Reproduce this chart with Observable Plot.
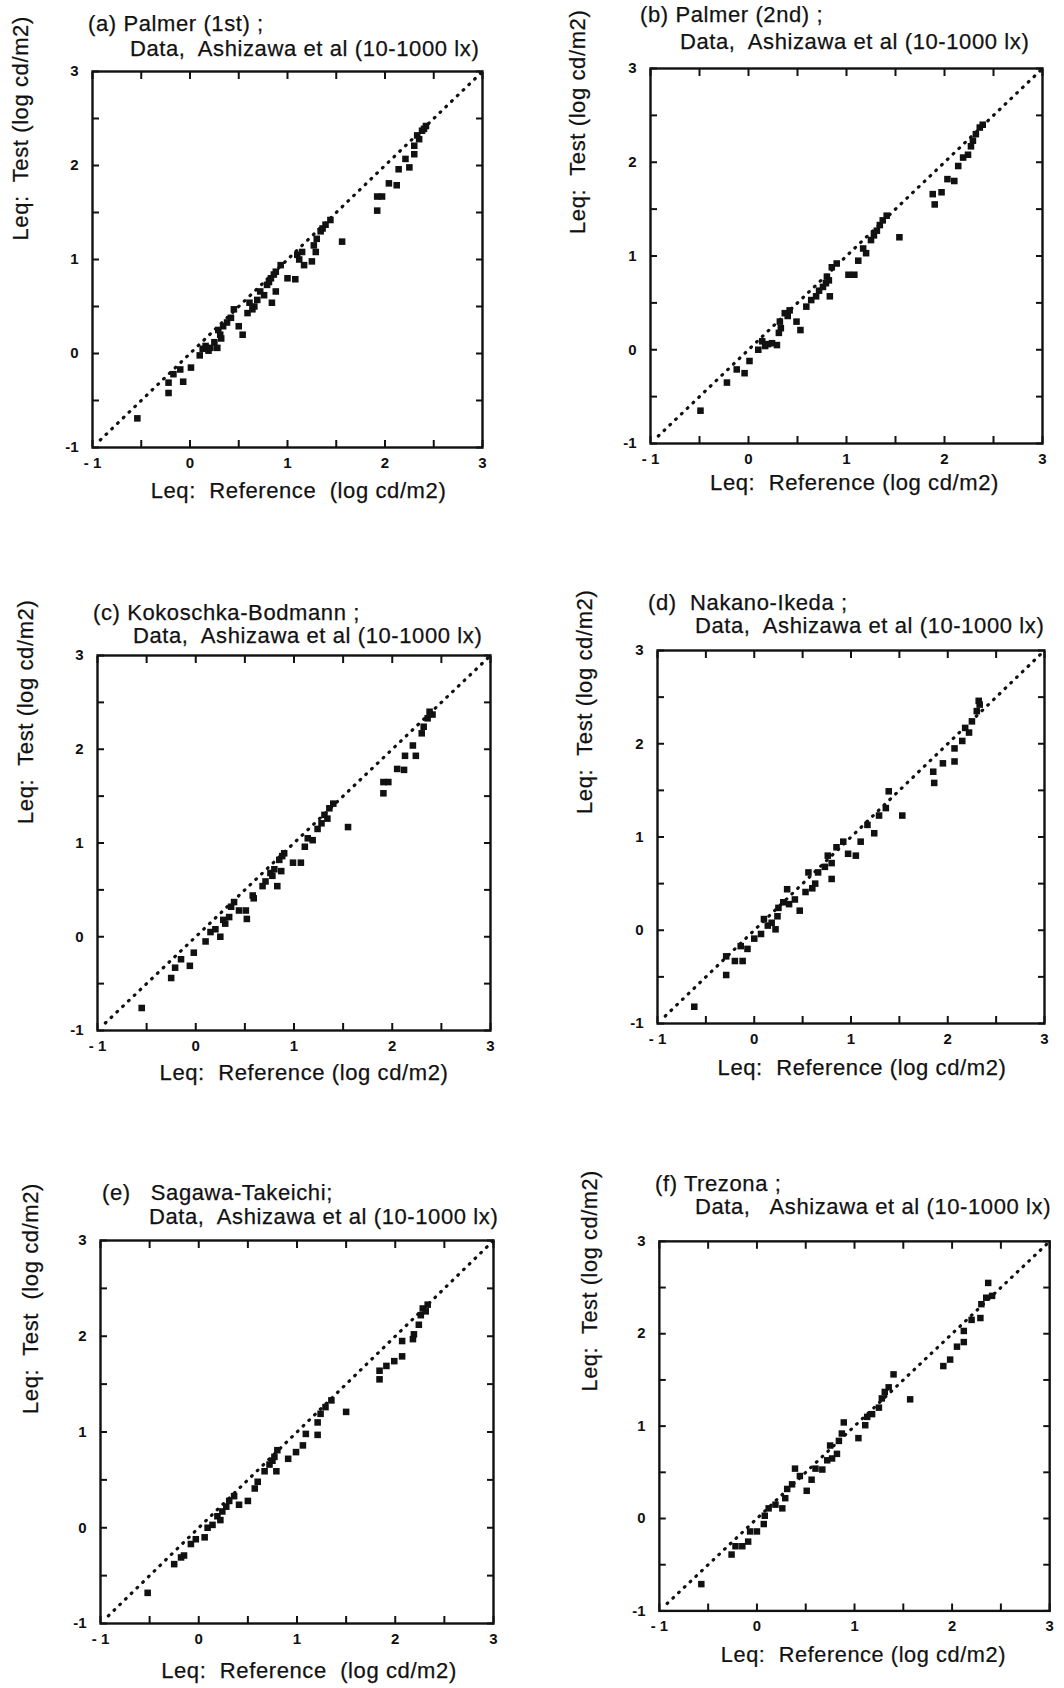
<!DOCTYPE html>
<html><head><meta charset="utf-8">
<script src="https://cdn.jsdelivr.net/npm/d3@7"></script>
<script src="https://cdn.jsdelivr.net/npm/@observablehq/plot@0.6"></script>
<style>
body{margin:0;background:#fff;}
#page{position:relative;width:1064px;height:1688px;background:#fff;font-family:"Liberation Sans",Arial,Helvetica,sans-serif;color:#111;overflow:hidden}
.t{position:absolute;font-size:22px;line-height:22px;letter-spacing:.6px;white-space:pre;-webkit-text-stroke:0.25px #111}
.p{position:absolute}
.p svg text{white-space:pre}
.p svg g[font-size="22"] text{letter-spacing:.6px;stroke:#111;stroke-width:0.25px}
.p svg g[fill="#101010"] text{font-size:15px !important;font-weight:700 !important}
</style></head><body><div id="page"></div>
<script>
// ---- data: [reference, test] in log cd/m2 ----
const palmer1st = [
[-0.54,-0.69],[-0.22,-0.42],[-0.22,-0.31],[-0.17,-0.22],[-0.10,-0.17],[-0.07,-0.30],[0.01,-0.15],[0.10,-0.02],[0.13,0.05],[0.16,0.08],[0.19,0.03],[0.21,0.06],[0.25,0.12],[0.28,0.06],[0.31,0.20],[0.29,0.25],[0.34,0.29],[0.32,0.16],[0.38,0.33],[0.42,0.38],[0.45,0.47],[0.50,0.29],[0.54,0.20],[0.59,0.43],[0.61,0.54],[0.64,0.47],[0.66,0.50],[0.69,0.57],[0.72,0.66],[0.76,0.62],[0.79,0.73],[0.81,0.76],[0.84,0.54],[0.88,0.66],[0.83,0.80],[0.86,0.84],[0.88,0.87],[0.93,0.94],[1.00,0.80],[1.08,0.79],[1.10,1.05],[1.12,1.00],[1.15,1.08],[1.17,0.94],[1.25,0.98],[1.27,1.15],[1.29,1.08],[1.30,1.22],[1.34,1.30],[1.36,1.33],[1.39,1.37],[1.44,1.42],[1.56,1.19],[1.92,1.52],[1.92,1.67],[1.97,1.67],[2.04,1.81],[2.12,1.79],[2.14,1.96],[2.25,1.98],[2.21,2.07],[2.30,2.12],[2.30,2.21],[2.35,2.28],[2.38,2.37],[2.42,2.42],[2.33,2.32],[2.40,2.39]
];
const palmer2nd = [
[-0.49,-0.65],[-0.22,-0.35],[-0.12,-0.21],[-0.04,-0.25],[0.01,-0.12],[0.10,0.0],[0.14,0.09],[0.17,0.04],[0.20,0.06],[0.24,0.07],[0.29,0.05],[0.31,0.18],[0.33,0.23],[0.32,0.30],[0.37,0.39],[0.40,0.36],[0.42,0.42],[0.49,0.30],[0.53,0.21],[0.59,0.46],[0.64,0.53],[0.69,0.57],[0.72,0.63],[0.76,0.67],[0.79,0.71],[0.83,0.57],[0.80,0.78],[0.82,0.74],[0.85,0.88],[0.90,0.92],[1.02,0.80],[1.08,0.80],[1.12,0.95],[1.17,1.08],[1.20,1.03],[1.25,1.17],[1.28,1.22],[1.31,1.27],[1.34,1.33],[1.37,1.38],[1.41,1.43],[1.54,1.20],[1.88,1.66],[1.90,1.55],[1.97,1.68],[2.03,1.82],[2.10,1.80],[2.14,1.96],[2.19,2.05],[2.24,2.08],[2.29,2.23],[2.27,2.17],[2.32,2.30],[2.36,2.37],[2.39,2.40]
];
const kokoschka = [
[-0.55,-0.76],[-0.25,-0.44],[-0.21,-0.33],[-0.15,-0.24],[-0.06,-0.31],[-0.02,-0.17],[0.10,-0.05],[0.15,0.05],[0.20,0.08],[0.25,0.0],[0.30,0.14],[0.28,0.18],[0.34,0.21],[0.39,0.37],[0.36,0.32],[0.44,0.28],[0.52,0.19],[0.51,0.28],[0.58,0.44],[0.59,0.41],[0.68,0.54],[0.71,0.59],[0.76,0.68],[0.80,0.72],[0.78,0.65],[0.83,0.54],[0.87,0.70],[0.85,0.82],[0.88,0.86],[0.90,0.89],[0.99,0.79],[1.07,0.79],[1.11,0.96],[1.14,1.05],[1.19,1.03],[1.24,1.15],[1.28,1.21],[1.31,1.30],[1.34,1.26],[1.36,1.37],[1.40,1.42],[1.55,1.17],[1.91,1.53],[1.91,1.65],[1.96,1.65],[2.05,1.79],[2.12,1.78],[2.13,1.93],[2.24,1.93],[2.21,2.04],[2.30,2.17],[2.32,2.24],[2.36,2.33],[2.41,2.37],[2.38,2.40]
];
const nakanoIkeda = [
[-0.62,-0.82],[-0.29,-0.48],[-0.29,-0.28],[-0.20,-0.33],[-0.12,-0.33],[-0.14,-0.17],[-0.07,-0.20],[0.00,-0.09],[0.07,-0.04],[0.10,0.12],[0.14,0.05],[0.18,0.08],[0.22,0.01],[0.24,0.15],[0.25,0.24],[0.30,0.30],[0.34,0.44],[0.36,0.28],[0.42,0.33],[0.47,0.21],[0.53,0.41],[0.56,0.62],[0.60,0.45],[0.63,0.50],[0.66,0.62],[0.73,0.68],[0.80,0.55],[0.76,0.80],[0.80,0.72],[0.85,0.89],[0.92,0.95],[0.97,0.82],[1.05,0.80],[1.10,0.95],[1.17,1.13],[1.24,1.04],[1.29,1.23],[1.36,1.31],[1.39,1.49],[1.53,1.23],[1.85,1.70],[1.86,1.58],[1.95,1.79],[2.07,1.81],[2.07,1.95],[2.15,2.03],[2.18,2.17],[2.22,2.12],[2.25,2.24],[2.30,2.35],[2.33,2.42],[2.32,2.46]
];
const sagawaTakeichi = [
[-0.52,-0.68],[-0.25,-0.38],[-0.18,-0.31],[-0.15,-0.29],[-0.08,-0.17],[-0.03,-0.12],[0.06,-0.10],[0.09,0.00],[0.14,0.03],[0.19,0.12],[0.22,0.08],[0.24,0.17],[0.28,0.22],[0.31,0.28],[0.36,0.33],[0.41,0.24],[0.50,0.28],[0.57,0.41],[0.60,0.48],[0.67,0.59],[0.72,0.66],[0.75,0.70],[0.77,0.74],[0.80,0.81],[0.79,0.59],[0.91,0.72],[0.99,0.79],[1.06,0.86],[1.09,0.98],[1.21,0.97],[1.21,1.10],[1.24,1.19],[1.29,1.26],[1.35,1.33],[1.50,1.21],[1.84,1.55],[1.84,1.64],[1.91,1.69],[1.99,1.74],[2.07,1.79],[2.07,1.95],[2.18,1.97],[2.19,2.02],[2.24,2.12],[2.26,2.22],[2.28,2.29],[2.31,2.26],[2.33,2.33]
];
const trezona = [
[-0.57,-0.71],[-0.26,-0.39],[-0.22,-0.30],[-0.15,-0.30],[-0.09,-0.25],[-0.07,-0.14],[0.00,-0.14],[0.07,-0.06],[0.08,0.03],[0.12,0.11],[0.19,0.15],[0.26,0.11],[0.29,0.22],[0.31,0.32],[0.36,0.37],[0.39,0.54],[0.44,0.46],[0.51,0.30],[0.56,0.42],[0.60,0.54],[0.67,0.53],[0.72,0.63],[0.77,0.65],[0.75,0.79],[0.82,0.70],[0.84,0.84],[0.87,0.92],[0.89,1.04],[1.04,0.87],[1.11,1.01],[1.13,1.10],[1.18,1.13],[1.25,1.20],[1.28,1.30],[1.31,1.37],[1.35,1.42],[1.40,1.56],[1.57,1.29],[1.91,1.65],[1.98,1.72],[2.05,1.86],[2.12,1.91],[2.12,2.03],[2.20,2.15],[2.29,2.17],[2.30,2.32],[2.35,2.39],[2.41,2.41],[2.37,2.55]
];

// ---- text ----
const titles1 = ["(a) Palmer (1st) ;", "(b) Palmer (2nd) ;", "(c) Kokoschka-Bodmann ;", "(d)  Nakano-Ikeda ;", "(e)   Sagawa-Takeichi;", "(f) Trezona ;"];
const titles2 = ["Data,  Ashizawa et al (10-1000 lx)", "Data,  Ashizawa et al (10-1000 lx)", "Data,  Ashizawa et al (10-1000 lx)", "Data,  Ashizawa et al (10-1000 lx)", "Data,  Ashizawa et al (10-1000 lx)", "Data,   Ashizawa et al (10-1000 lx)"];
const xLabels = ["Leq:  Reference  (log cd/m2)", "Leq:  Reference (log cd/m2)", "Leq:  Reference (log cd/m2)", "Leq:  Reference (log cd/m2)", "Leq:  Reference  (log cd/m2)", "Leq:  Reference (log cd/m2)"];
const yLabels = ["Leq:  Test (log cd/m2)", "Leq:  Test (log cd/m2)", "Leq:  Test (log cd/m2)", "Leq:  Test (log cd/m2)", "Leq:  Test  (log cd/m2)", "Leq:  Test (log cd/m2)"];
const majorTicks = [-1, 0, 1, 2, 3];
const xTickText = ["- 1", "0", "1", "2", "3"];
const yTickText = ["-1", "0", "1", "2", "3"];
const minorTicks = [-1, -0.5, 0, 0.5, 1, 1.5, 2, 2.5, 3];
const diagonal = [-0.92, 3];
const datasets = [palmer1st, palmer2nd, kokoschka, nakanoIkeda, sagawaTakeichi, trezona];

// ---- layout (page pixels) ----
const frames = [[92,71,482,447],[650,68,1042,443],[97,655,490,1030],[657,650,1044,1023],[100,1240,493,1623],[660,1241,1055,1615]];
const title1Pos = [[88,13],[640,4],[93,602],[648,592],[102,1182],[655,1173]];
const title2Pos = [[130,38],[680,31],[133,625],[695,615],[149,1206],[695,1196]];
const xLabOff = [[11,43],[8,39],[10,42],[11,44],[12,47],[9,45]];
const yLabOff = [[-72,-19],[-73,-22],[-72,-19],[-73,-23],[-70,-18],[-70,-35]];

const page = document.getElementById("page");
const mL = 95, mR = 15, mT = 12, mB = 66;

datasets.forEach((data, i) => {
  const [L, T, R, B] = frames[i];
  const chart = Plot.plot({
    width: R - L + mL + mR, height: B - T + mT + mB,
    marginLeft: mL, marginRight: mR, marginTop: mT, marginBottom: mB,
    x: {domain: [-1, 3]}, y: {domain: [-1, 3]},
    style: {fontFamily: '"Liberation Sans", Arial, sans-serif', background: "transparent", color: "#111", overflow: "visible"},
    marks: [
      Plot.line(diagonal, {x: d => d, y: d => d, stroke: "#111", strokeWidth: 3.2, strokeDasharray: "0.8 7.2", strokeLinecap: "round"}),
      Plot.dot(data, {x: d => d[0], y: d => d[1], symbol: "square", r: 3.7, fill: "#111", stroke: "none"}),
      Plot.frame({stroke: "#111", strokeWidth: 2.4}),
      Plot.axisX(minorTicks, {anchor: "bottom", tickSize: -7, tickFormat: () => "", strokeWidth: 2, label: null}),
      Plot.axisX(minorTicks, {anchor: "top", tickSize: -7, tickFormat: () => "", strokeWidth: 2, label: null}),
      Plot.axisY(minorTicks, {anchor: "left", tickSize: -7, tickFormat: () => "", strokeWidth: 2, label: null}),
      Plot.axisY(minorTicks, {anchor: "right", tickSize: -7, tickFormat: () => "", strokeWidth: 2, label: null}),
      Plot.text(majorTicks, {x: d => d, text: (d, j) => xTickText[j], frameAnchor: "bottom", dy: 16, fontSize: 15, fontWeight: "bold", lineAnchor: "middle", fill: "#101010"}),
      Plot.text(majorTicks, {y: d => d, text: (d, j) => yTickText[j], frameAnchor: "left", dx: -14, textAnchor: "end", fontSize: 15, fontWeight: "bold", lineAnchor: "middle", fill: "#101010"}),
      Plot.text([xLabels[i]], {text: d => d, frameAnchor: "bottom", dx: xLabOff[i][0], dy: xLabOff[i][1], fontSize: 22, lineAnchor: "middle", fill: "#111"}),
      Plot.text([yLabels[i]], {text: d => d, frameAnchor: "left", rotate: -90, dx: yLabOff[i][0], dy: yLabOff[i][1], fontSize: 22, lineAnchor: "middle", fill: "#111"})
    ]
  });
  chart.querySelectorAll('g[fill="#101010"] text').forEach(t => { t.style.fontSize = "15px"; t.style.fontWeight = "700"; });
  const wrap = document.createElement("div");
  wrap.className = "p";
  wrap.style.left = (L - mL) + "px";
  wrap.style.top = (T - mT) + "px";
  wrap.appendChild(chart);
  page.appendChild(wrap);

  [[titles1[i], title1Pos[i]], [titles2[i], title2Pos[i]]].forEach(([txt, [x, y]]) => {
    const d = document.createElement("div");
    d.className = "t";
    d.textContent = txt;
    d.style.left = x + "px";
    d.style.top = y + "px";
    page.appendChild(d);
  });
});
</script></body></html>
